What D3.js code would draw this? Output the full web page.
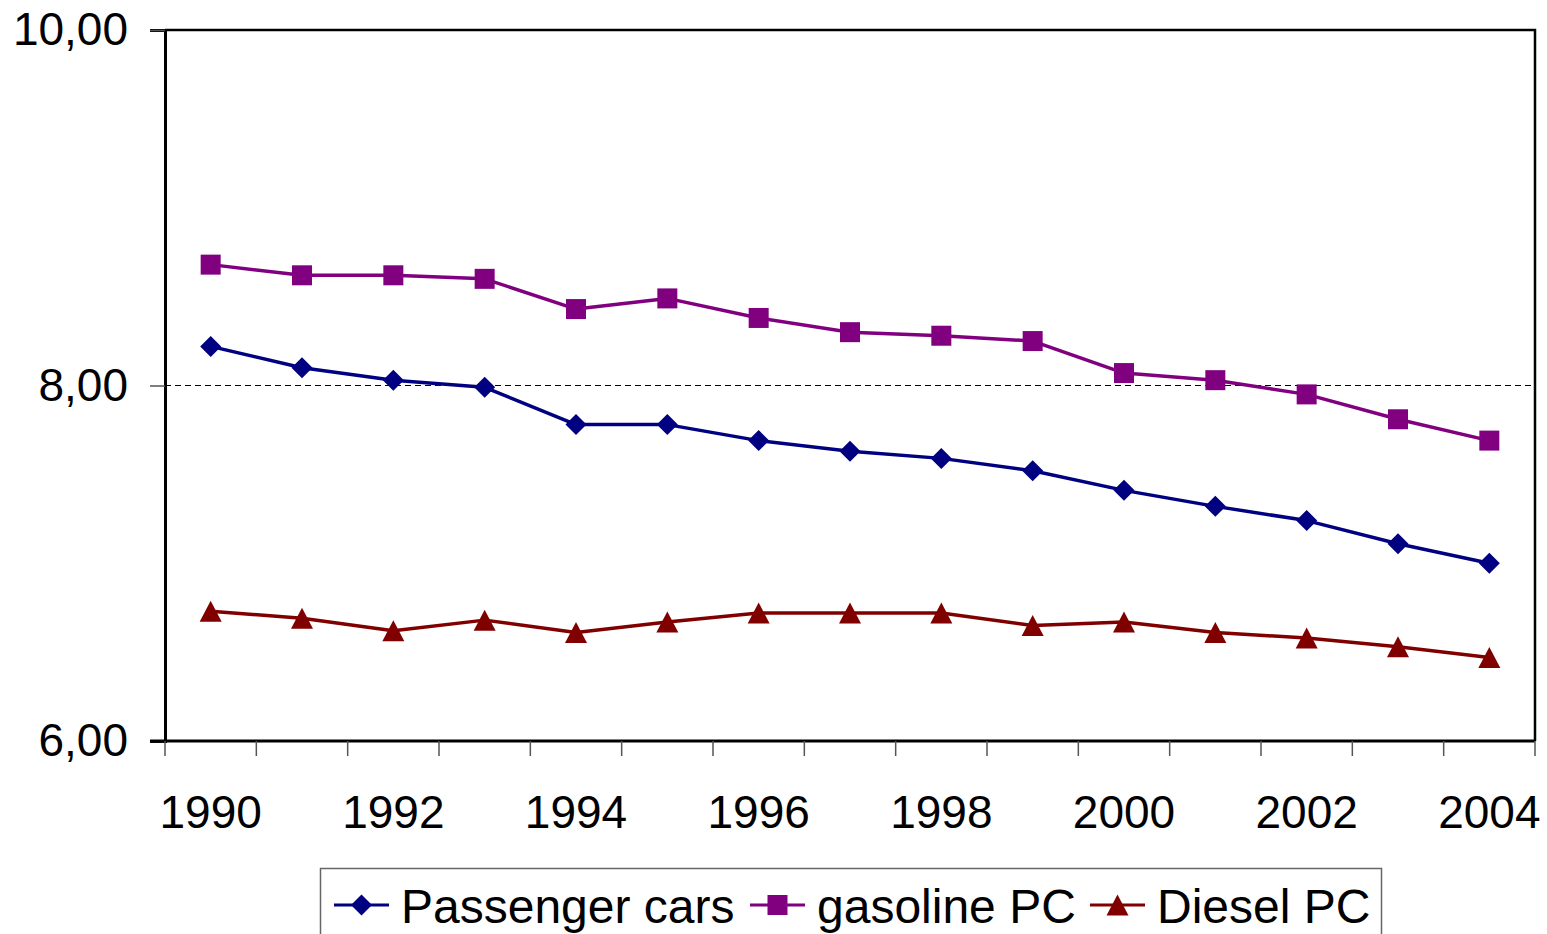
<!DOCTYPE html>
<html>
<head>
<meta charset="utf-8">
<script src="https://cdn.jsdelivr.net/npm/d3@7"></script>
<style>
    html, body { margin: 0; padding: 0; background: #fff; }
    svg { display: block; font-family: "Liberation Sans", Arial, sans-serif; }
</style>
</head>
<body>
<div id="chart"></div>
<script>
// ---- data ----
const years = [1990, 1991, 1992, 1993, 1994, 1995, 1996, 1997, 1998, 1999, 2000, 2001, 2002, 2003, 2004];
const passengerCars = [8.22, 8.10, 8.03, 7.99, 7.78, 7.78, 7.69, 7.63, 7.59, 7.52, 7.41, 7.32, 7.24, 7.11, 7.00];
const gasolinePC = [8.68, 8.62, 8.62, 8.60, 8.43, 8.49, 8.38, 8.30, 8.28, 8.25, 8.07, 8.03, 7.95, 7.81, 7.69];
const dieselPC = [6.73, 6.69, 6.62, 6.68, 6.61, 6.67, 6.72, 6.72, 6.72, 6.65, 6.67, 6.61, 6.58, 6.53, 6.47];
const yTicks = [6, 8, 10];
const xLabelYears = [1990, 1992, 1994, 1996, 1998, 2000, 2002, 2004];

const series = [
    { name: "Passenger cars", values: passengerCars, color: "#000080", symbol: "diamond" },
    { name: "gasoline PC", values: gasolinePC, color: "#800080", symbol: "square" },
    { name: "Diesel PC", values: dieselPC, color: "#800000", symbol: "triangle" }
];

// ---- layout ----
const width = 1547, height = 934;
const plot = { left: 165, right: 1535, top: 30, bottom: 741 };

const svg = d3.select("#chart").append("svg")
    .attr("width", width)
    .attr("height", height);

const x = d3.scaleBand()
    .domain(years)
    .range([plot.left, plot.right])
    .padding(0);

const y = d3.scaleLinear()
    .domain([6, 10])
    .range([plot.bottom, plot.top]);

const cx = d => x(d) + x.bandwidth() / 2;

const locale = d3.formatLocale({ decimal: ",", thousands: ".", grouping: [3], currency: ["", ""] });
const fmt = locale.format(".2f");

// dashed gridline at 8
svg.append("line")
    .attr("x1", plot.left).attr("x2", plot.right)
    .attr("y1", y(8)).attr("y2", y(8))
    .attr("stroke", "#000")
    .attr("stroke-width", 1)
    .attr("stroke-dasharray", "6,4");

// frame (top + right)
svg.append("path")
    .attr("d", `M${plot.left},${plot.top}H${plot.right}V${plot.bottom}`)
    .attr("fill", "none")
    .attr("stroke", "#000")
    .attr("stroke-width", 2.5);

// y axis
const yAxis = svg.append("g")
    .attr("transform", `translate(${plot.left},0)`)
    .call(d3.axisLeft(y).tickValues(yTicks).tickFormat(fmt).tickSize(15).tickPadding(22));
yAxis.select(".domain").attr("stroke", "#000").attr("stroke-width", 3);
yAxis.selectAll(".tick line").attr("stroke", "#555").attr("stroke-width", 1.5);
yAxis.selectAll(".tick text")
    .attr("font-size", 46)
    .attr("fill", "#000")
    .attr("font-family", "'Liberation Sans', Arial, sans-serif");

// x axis
const xAxis = svg.append("g")
    .attr("transform", `translate(0,${plot.bottom})`);
xAxis.append("line")
    .attr("x1", plot.left - 15).attr("x2", plot.right)
    .attr("stroke", "#000").attr("stroke-width", 3);
const boundaries = years.map(d => x(d)).concat([x(years[years.length - 1]) + x.bandwidth()]);
xAxis.selectAll(".xtick")
    .data(boundaries)
    .join("line")
    .attr("class", "xtick")
    .attr("x1", d => d).attr("x2", d => d)
    .attr("y1", 0).attr("y2", 15)
    .attr("stroke", "#555").attr("stroke-width", 1.5);
xAxis.selectAll(".xlabel")
    .data(xLabelYears)
    .join("text")
    .attr("class", "xlabel")
    .attr("x", d => cx(d))
    .attr("y", 87)
    .attr("text-anchor", "middle")
    .attr("font-size", 46)
    .text(d => d);

// lines and markers
const line = d3.line()
    .x((d, i) => cx(years[i]))
    .y(d => y(d));

// Excel-style markers, centred on the data point
function markerPath(s) {
    if (s === "diamond") return "M0,-10.5L10.5,0L0,10.5L-10.5,0Z";
    if (s === "square") return "M-10,-10H10V10H-10Z";
    return "M0,-10.5L11,10.5H-11Z";
}

series.forEach(s => {
    const g = svg.append("g");
    g.append("path")
        .datum(s.values)
        .attr("fill", "none")
        .attr("stroke", s.color)
        .attr("stroke-width", 3.5)
        .attr("stroke-linejoin", "round")
        .attr("d", line);
    g.selectAll("path.marker")
        .data(s.values)
        .join("path")
        .attr("class", "marker")
        .attr("d", markerPath(s.symbol))
        .attr("fill", s.color)
        .attr("transform", (d, i) => `translate(${cx(years[i])},${y(d)})`);
});

// legend
const legend = svg.append("g");
legend.append("rect")
    .attr("x", 320.5).attr("y", 868.5)
    .attr("width", 1061).attr("height", 90)
    .attr("fill", "#fff")
    .attr("stroke", "#666")
    .attr("stroke-width", 1.5);

const legendX = [334, 750, 1090];
const legendY = 905;
series.forEach((s, i) => {
    const g = legend.append("g").attr("transform", `translate(${legendX[i]},${legendY})`);
    g.append("line")
        .attr("x1", 0).attr("x2", 55)
        .attr("stroke", s.color).attr("stroke-width", 3);
    g.append("path")
        .attr("d", markerPath(s.symbol))
        .attr("fill", s.color)
        .attr("transform", "translate(27.5,0)");
    g.append("text")
        .attr("x", 67)
        .attr("y", 18)
        .attr("font-size", 48)
        .text(s.name);
});
</script>
</body>
</html>
